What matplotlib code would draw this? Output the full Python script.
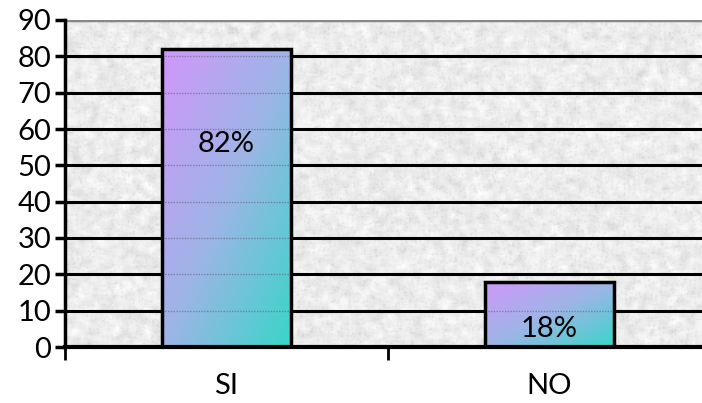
import numpy as np
import matplotlib.pyplot as plt
from matplotlib.colors import LinearSegmentedColormap

categories = ['SI', 'NO']
values = [82, 18]
label_y = [56, 5]          # where the percentage text sits on each bar
yticks = list(range(0, 91, 10))

plt.rcParams['font.family'] = ['Lato', 'DejaVu Sans']

fig = plt.figure(figsize=(7.02, 4.03), dpi=100)
# axes runs a little past the right edge, so the last column is cut off
ax = fig.add_axes([65 / 702, 56 / 403, 646 / 702, 327 / 403])

xlim = (-0.5, 1.5)
ylim = (0, 90)
ax.set_xlim(*xlim)
ax.set_ylim(*ylim)

# granite-like backdrop
rng = np.random.default_rng(7)
h, w = 220, 430
noise = rng.random((h, w))
pad = np.pad(noise, 2, mode='wrap')
smooth = sum(pad[i:i + h, j:j + w] for i in range(5) for j in range(5)) / 25.0
speck = rng.random((h, w))
tex = 0.93 + (smooth - 0.5) * 0.35 - (speck > 0.9) * 0.05
tex = np.clip(tex, 0.72, 1.0)
ax.imshow(tex, cmap='gray', vmin=0, vmax=1, extent=(*xlim, *ylim),
          aspect='auto', interpolation='bilinear', zorder=0)

# horizontal grid
for yv in yticks[1:-1]:
    ax.axhline(yv, color='black', lw=2.2, zorder=1)
ax.axhline(90, color='#888888', lw=2.5, zorder=1)

# bars with diagonal purple-to-teal fill
grad_cmap = LinearSegmentedColormap.from_list('pt', ['#d197fb', '#9db5e6', '#38d6c8'])
gx, gy = np.meshgrid(np.linspace(0, 1, 60), np.linspace(0, 1, 200))
width = 0.4
for i, v in enumerate(values):
    left, right = i - width / 2, i + width / 2
    t = (gx + gy) / 2
    ax.imshow(t, cmap=grad_cmap, extent=(left, right, 0, v), origin='upper',
              aspect='auto', interpolation='bilinear', zorder=2)
    for yv in yticks[1:]:
        if yv < v:
            ax.hlines(yv, left, right, colors='#6a6a8a', linestyles=(0, (1, 1)),
                      lw=1, alpha=0.7, zorder=3)
    ax.bar(i, v, width=width, facecolor='none', edgecolor='black', lw=2.5, zorder=4)
    ax.text(i, label_y[i], f'{v}%', ha='center', va='center', fontsize=21,
            color='black', zorder=5)

# axes styling
for side in ['top', 'right']:
    ax.spines[side].set_visible(False)
ax.spines['left'].set_linewidth(2.5)
ax.spines['bottom'].set_linewidth(3)
ax.spines['left'].set_zorder(6)
ax.spines['bottom'].set_zorder(6)

ax.set_yticks(yticks)
ax.tick_params(axis='y', direction='out', length=7, width=2.5, labelsize=21, pad=3)
ax.set_xticks([-0.5, 0.5, 1.5])
ax.set_xticklabels([])
ax.set_xticks([0, 1], minor=True)
ax.set_xticklabels(categories, minor=True)
ax.tick_params(axis='x', which='major', direction='out', length=9, width=2)
ax.tick_params(axis='x', which='minor', length=0, labelsize=21, pad=19)

fig.savefig('out.png', dpi=100)
